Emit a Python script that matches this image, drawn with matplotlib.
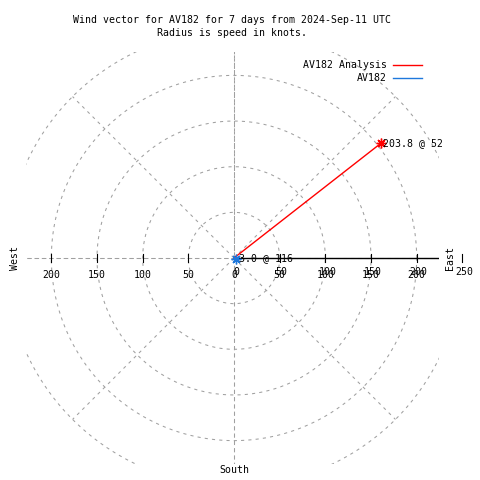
import numpy as np
import matplotlib
matplotlib.use("Agg")
import matplotlib.pyplot as plt

# wind vectors: speed in knots, direction in degrees (clockwise from north)
names = ["AV182 Analysis", "AV182"]
speeds = [203.8, 3.0]
directions = [52, 116]
colors = ["#ff0000", "#1e78dc"]

ring_radii = [50, 100, 150, 200, 250]
spoke_angles = [0, 45, 90, 135, 180, 225, 270, 315]
x_ticks = [-200, -150, -100, -50, 0, 50, 100, 150, 200]
r_ticks = [0, 50, 100, 150, 200, 250]

title = "Wind vector for AV182 for 7 days from 2024-Sep-11 UTC\nRadius is speed in knots."

FONT = "DejaVu Sans Mono"
FS = 7.1
GRID = dict(color="#a0a0a0", lw=0.75, ls=(0, (3, 4)))

fig = plt.figure(figsize=(4.8, 4.8), dpi=100)
ax = fig.add_axes([25.5 / 480, 16 / 480, 413 / 480, 412 / 480])
ax.set_xlim(-228.3, 223.9)
ax.set_ylim(-225.6, 225.6)
ax.axis("off")

# polar grid
t = np.linspace(0, 2 * np.pi, 721)
for r in ring_radii:
    ax.plot(r * np.cos(t), r * np.sin(t), **GRID)
for a in spoke_angles:
    rad = np.radians(a)
    ax.plot([0, 250 * np.cos(rad)], [0, 250 * np.sin(rad)], **GRID)
ax.plot([0, 0], [-260, 260], **GRID)
ax.plot([-260, 0], [0, 0], **GRID)

# r axis with ticks
ax.plot([0, 260], [0, 0], color="black", lw=1)
for v in x_ticks + [250]:
    if v == 0:
        continue
    ax.plot([v, v], [-4.4, 4.4], color="black", lw=0.8, clip_on=False)

for v in x_ticks:
    ax.annotate(str(abs(v)), (v, 0), xytext=(0, -12.2), textcoords="offset points",
                ha="center", va="center", fontsize=FS, family=FONT)
for v in r_ticks:
    ax.annotate(str(v), (v, 0), xytext=(1.5, -10), textcoords="offset points",
                ha="center", va="center", fontsize=FS, family=FONT, annotation_clip=False)

# vectors
for name, spd, d, c in zip(names, speeds, directions, colors):
    rad = np.radians(90 - d)
    x, y = spd * np.cos(rad), spd * np.sin(rad)
    ax.plot([0, x], [0, y], color=c, lw=1, label=name)
    ax.plot([x], [y], color=c, ls="none", marker=(8, 2, 0), ms=7, mew=1)
    ax.annotate(f"{spd:.1f} @ {d}", (x, y), xytext=(2, 0.5), textcoords="offset points",
                ha="left", va="center", fontsize=FS, family=FONT)

ax.legend(loc="upper right", bbox_to_anchor=(427 / 480, 1 - 55.5 / 480),
          bbox_transform=fig.transFigure, frameon=False, markerfirst=False,
          borderpad=0, handlelength=2.9, handletextpad=0.7, labelspacing=0.3,
          prop={"family": FONT, "size": FS})

fig.text(232 / 480, 1 - 26.5 / 480, title, ha="center", va="center",
         fontsize=FS, family=FONT, linespacing=1.3)
fig.text(15 / 480, 1 - 258 / 480, "West", rotation=90, ha="center", va="center",
         fontsize=FS, family=FONT)
fig.text(450 / 480, 1 - 258 / 480, "East", rotation=90, ha="center", va="center",
         fontsize=FS, family=FONT)
fig.text(234 / 480, 1 - 470 / 480, "South", ha="center", va="center",
         fontsize=FS, family=FONT)

fig.savefig("out.png", dpi=100)
plt.close(fig)
